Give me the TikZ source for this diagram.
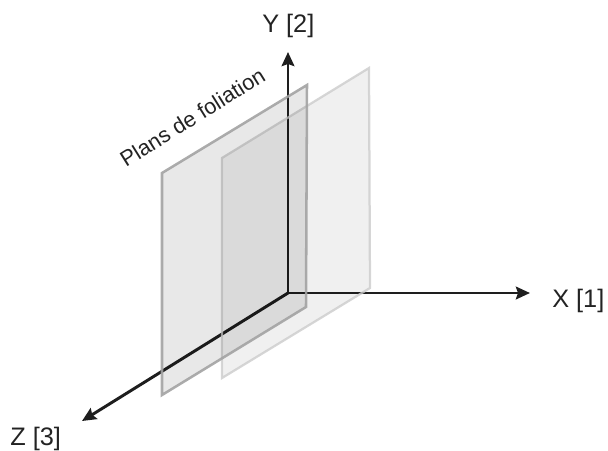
\documentclass[tikz,border=0pt]{standalone}
\usepackage{fontspec}
\setmainfont{Liberation Sans}
\usetikzlibrary{arrows.meta}
\definecolor{axisgray}{RGB}{30,30,30}
\definecolor{textgray}{RGB}{35,35,35}

\begin{document}
\begin{tikzpicture}[x=0.025cm, y=-0.025cm,
    axis/.style={draw=axisgray, line width=2.1pt, -{Stealth[length=10pt, width=9pt, inset=1.5pt]}},
    frontplane/.style={draw=black!36, line width=1.8pt, fill=black, fill opacity=0.09, draw opacity=0.9, line join=miter},
    backplane/.style={draw=black!20, line width=1.6pt, fill=black, fill opacity=0.06, draw opacity=0.8, line join=miter},
    axislabel/.style={font=\fontsize{18}{21}\selectfont, text=textgray, inner sep=0pt},
    >=Stealth
]
\useasboundingbox (0,0) rectangle (608,450);

% axes
\coordinate (o) at (288,293);
\coordinate (xend) at (530,293);
\coordinate (yend) at (288,52);
\coordinate (zend) at (82,421);
\draw[axis] (o) -- (xend);
\draw[axis] (o) -- (yend);
\draw[axis] (o) -- (zend);

% foliation planes
\draw[backplane] (222,158) -- (369,68) -- (370,288) -- (222,378) -- cycle;
\draw[frontplane] (162,173) -- (307,85) -- (306,307) -- (162,395) -- cycle;

% labels
\node[axislabel, anchor=base west] (xlab) at (552,307) {X [1]};
\node[axislabel, anchor=base west] (ylab) at (262,32) {Y [2]};
\node[axislabel, anchor=base west] (zlab) at (10,445) {Z [3]};
\node[font=\fontsize{15.5}{18}\selectfont, text=textgray, inner sep=0pt, anchor=base west, rotate=32] (plans) at (126,168) {Plans de foliation};
\end{tikzpicture}
\end{document}
